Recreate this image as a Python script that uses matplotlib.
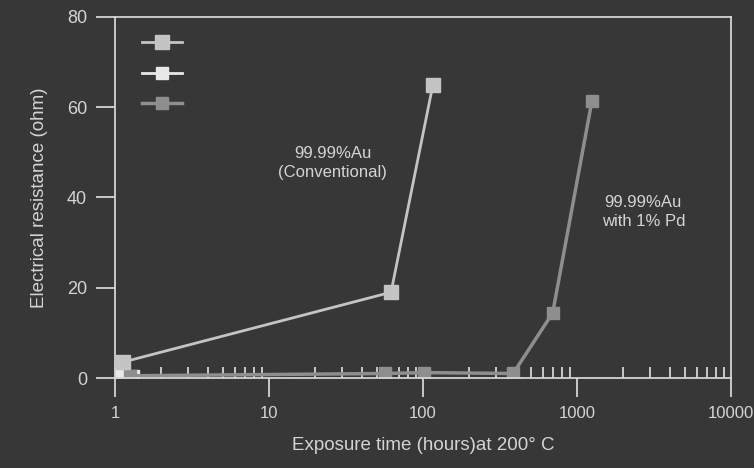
import matplotlib.pyplot as plt
from matplotlib.ticker import FixedLocator, NullFormatter

plt.rcParams['font.family'] = ['Liberation Sans', 'DejaVu Sans']

# exposure time (h) and resistance (ohm) for each wire
conv_hours = [1.12, 62, 116]
conv_ohm = [3.5, 19, 65]

pd_hours = [1.25, 57, 102, 385, 695, 1250]
pd_ohm = [0.5, 1.0, 1.2, 1.0, 14.4, 61.4]

ref_hours = [1.05, 1.3]
ref_ohm = [0.8, 0.5]

x_ticks = [1, 10, 100, 1000, 10000]
x_labels = ['1', '10', '100', '1000', '10000']
y_ticks = [0, 20, 40, 60, 80]

bg = '#373737'
fg = '#d4d4d4'

fig = plt.figure(figsize=(7.54, 4.68), dpi=100, facecolor=bg)
ax = fig.add_axes([0.1525, 0.1923, 0.817, 0.7714], facecolor=bg)

l1, = ax.plot(conv_hours, conv_ohm, color='#c4c4c4', lw=2, marker='s',
              ms=10, zorder=3)
l2, = ax.plot(ref_hours, ref_ohm, color='#e8e8e8', lw=2, marker='s',
              ms=8, zorder=2)
l3, = ax.plot(pd_hours, pd_ohm, color='#8e8e8e', lw=2.5, marker='s',
              ms=8, zorder=2)

ax.set_xscale('log')
ax.set_xlim(1, 10000)
ax.set_ylim(0, 80)
ax.set_xticks(x_ticks)
ax.set_xticklabels(x_labels)
ax.set_yticks(y_ticks)
ax.xaxis.set_minor_locator(FixedLocator(
    [d * m for d in [1, 10, 100, 1000] for m in range(2, 10)]))
ax.xaxis.set_minor_formatter(NullFormatter())

for s in ax.spines.values():
    s.set_color(fg)
    s.set_linewidth(1.3)

ax.tick_params(axis='both', which='major', colors=fg, labelsize=13,
               direction='out', length=14, width=1.3, pad=6)
ax.tick_params(axis='x', which='major', labelsize=12)
ax.tick_params(axis='x', which='minor', colors=fg, direction='in',
               length=8, width=1.3)

ax.set_xlabel('Exposure time (hours)at 200° C', color=fg, fontsize=13.5,
              labelpad=12)
ax.set_ylabel('Electrical resistance (ohm)', color=fg, fontsize=13.5,
              labelpad=14)

ax.text(26, 47.7, '99.99%Au\n(Conventional)', color=fg,
        fontsize=12, ha='center', va='center', linespacing=1.3)
ax.text(2700, 36.8, '99.99%Au\nwith 1% Pd', color=fg, fontsize=12,
        ha='center', va='center', linespacing=1.3)

ax.legend([l1, l2, l3], ['', '', ''], loc='upper left',
          bbox_to_anchor=(0.022, 0.985), frameon=False, handlelength=2.6,
          labelspacing=1.1, fontsize=11)

fig.savefig('out.png', dpi=100, facecolor=bg)
